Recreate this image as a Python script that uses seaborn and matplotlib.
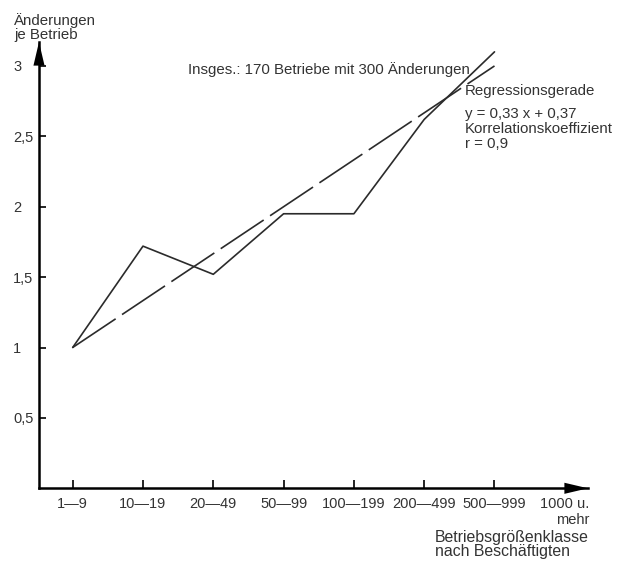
import matplotlib
matplotlib.use("Agg")
import matplotlib.pyplot as plt
import seaborn as sns
import pandas as pd

# Betriebsgrößenklassen (Beschäftigte) und durchschnittliche Änderungen je Betrieb
classes = ["1—9", "10—19", "20—49", "50—99", "100—199", "200—499", "500—999", "1000 u.\nmehr"]
changes = [1.0, 1.72, 1.52, 1.95, 1.95, 2.62, 3.10]
# Regressionsgerade: Werte an der ersten und letzten besetzten Klasse
reg_classes = [0, 6]
reg_values = [1.0, 3.0]
ytick_values = [0.5, 1, 1.5, 2, 2.5, 3]
ytick_labels = ["0,5", "1", "1,5", "2", "2,5", "3"]

sns.set_theme(style="white")
plt.rcParams["font.family"] = ["Liberation Sans", "DejaVu Sans"]

INK = "#2b2b2b"
TXT = "#333333"

W, H = 637, 561
fig = plt.figure(figsize=(W / 100, H / 100), dpi=100)
fig.patch.set_facecolor("white")

# axis origin at pixel (39, 488), arrow tips at x=588 and y=42
ax = fig.add_axes([39 / W, (H - 488.3) / H, (588 - 39) / W, (488.3 - 42) / H])
ax.set_facecolor("white")
ax.set_xlim(-0.479, 7.33)
ax.set_ylim(0, 3.17)

df = pd.DataFrame({"klasse": range(len(changes)), "aenderungen": changes})
sns.lineplot(data=df, x="klasse", y="aenderungen", sort=False, color=INK,
             lw=1.2, ax=ax)
df_reg = pd.DataFrame({"klasse": reg_classes, "wert": reg_values})
sns.lineplot(data=df_reg, x="klasse", y="wert", sort=False, color=INK,
             lw=1.2, linestyle=(0, (31, 4.6)), ax=ax)

# axes drawn as arrows
for side in ("top", "right"):
    ax.spines[side].set_visible(False)
for side in ("left", "bottom"):
    ax.spines[side].set_linewidth(1.8)
    ax.spines[side].set_color("black")

arrow = dict(arrowstyle="-|>,head_length=1.7,head_width=0.4", color="black",
             lw=0, shrinkA=0, shrinkB=0, mutation_scale=10)
ax.annotate("", xy=(1, 0), xytext=(0.9, 0), xycoords="axes fraction",
            textcoords="axes fraction", arrowprops=arrow, annotation_clip=False)
ax.annotate("", xy=(0, 1), xytext=(0, 0.9), xycoords="axes fraction",
            textcoords="axes fraction", arrowprops=arrow, annotation_clip=False)

ax.set_xticks(range(len(classes)))
ax.set_xticklabels(classes, ma="right")
ax.tick_params(axis="x", direction="in", length=6, width=1.2, pad=6,
               labelsize=10.5, labelcolor=TXT, color="black", bottom=True)
ax.xaxis.get_major_ticks()[-1].tick1line.set_visible(False)

ax.set_yticks(ytick_values)
ax.set_yticklabels(ytick_labels)
ax.tick_params(axis="y", direction="in", length=5, width=1.2, pad=18.5,
               labelsize=10.5, labelcolor=TXT, color="black", left=True)
for lab in ax.get_yticklabels():
    lab.set_horizontalalignment("left")

ax.set_xlabel("")
ax.set_ylabel("")
ax.grid(False)

fs = 10.8
ax.text(1.64, 2.942, "Insges.: 170 Betriebe mit 300 Änderungen", fontsize=fs,
        color=TXT, va="baseline", ha="left")
ax.text(5.58, 2.794, "Regressionsgerade", fontsize=fs, color=TXT,
        va="baseline", ha="left")
ax.text(5.58, 2.628, "y = 0,33 x + 0,37", fontsize=fs, color=TXT,
        va="baseline", ha="left")
ax.text(5.58, 2.521, "Korrelationskoeffizient", fontsize=fs, color=TXT,
        va="baseline", ha="left")
ax.text(5.58, 2.415, "r = 0,9", fontsize=fs, color=TXT,
        va="baseline", ha="left")

# axis titles
fig.text(14 / W, 1 - 25 / H, "Änderungen", fontsize=fs, color=TXT,
         va="baseline", ha="left")
fig.text(14 / W, 1 - 39 / H, "je Betrieb", fontsize=fs, color=TXT,
         va="baseline", ha="left")
fig.text(435 / W, 1 - 541.7 / H, "Betriebsgrößenklasse", fontsize=11.4,
         color=TXT, va="baseline", ha="left")
fig.text(435 / W, 1 - 556 / H, "nach Beschäftigten", fontsize=11.4,
         color=TXT, va="baseline", ha="left")

fig.savefig("out.png", dpi=100, facecolor="white")
